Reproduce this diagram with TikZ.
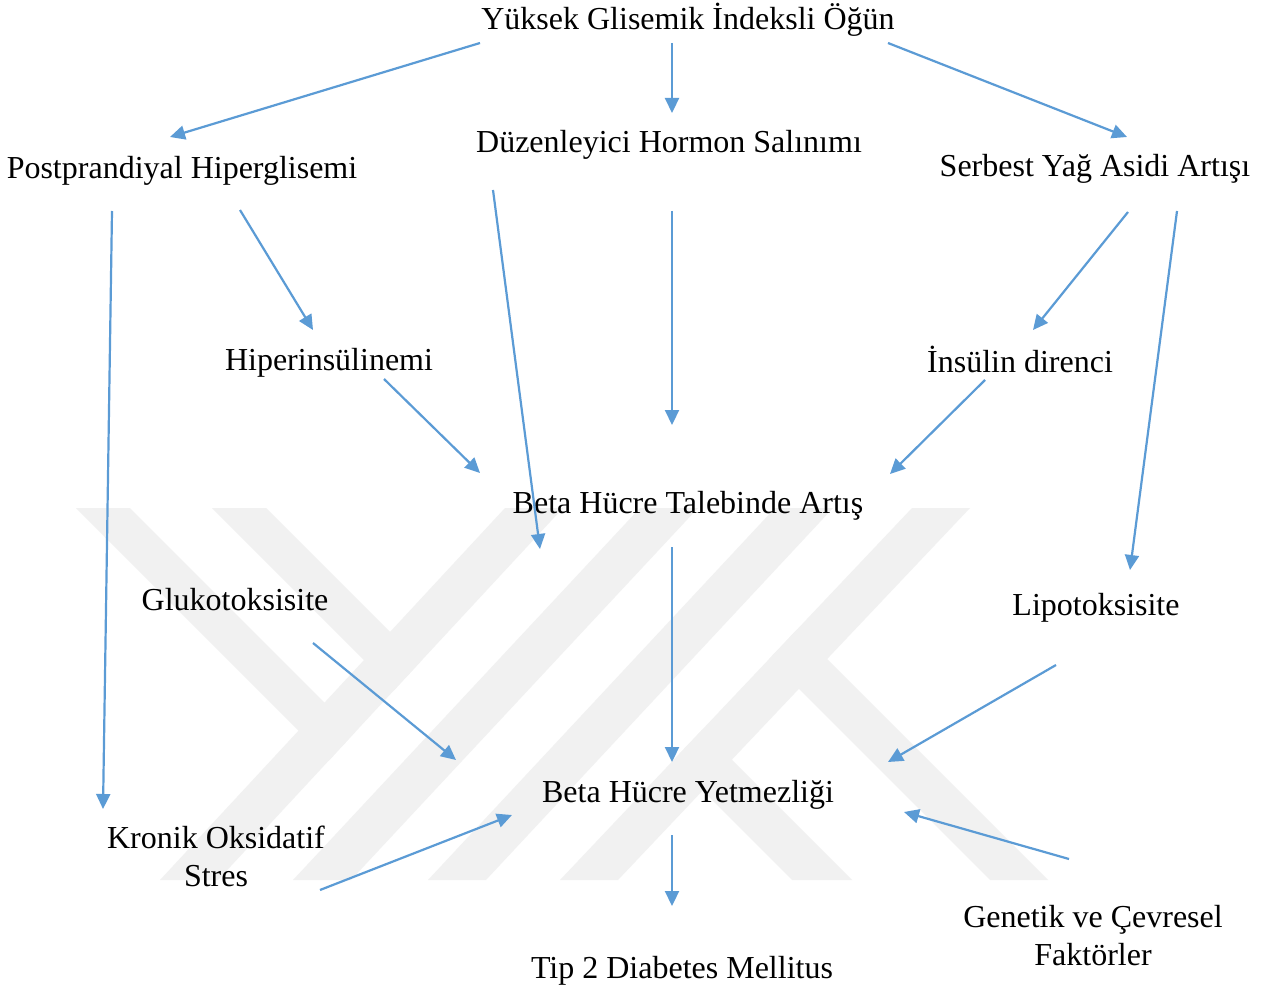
\documentclass[tikz,border=0pt]{standalone}
\usepackage{fontspec}
\setmainfont{Liberation Serif}
\usetikzlibrary{arrows.meta}
\definecolor{arrowblue}{RGB}{91,155,213}
\definecolor{wmgray}{RGB}{241,241,241}
\begin{document}
\begin{tikzpicture}[x=1pt,y=-1pt,
  lbl/.style={font=\fontsize{32}{38}\selectfont, inner sep=0pt, anchor=base, align=center},
  arr/.style={draw=arrowblue, line width=2.2pt, -{Triangle[length=15pt,width=14pt]}},
  wm/.style={fill=wmgray, draw=none}]
\useasboundingbox (0,0) rectangle (1276,992);
\fill[white] (0,0) rectangle (1276,992);
% watermark
\fill[wm] (76,508) -- (130,508) -- (354.6,732.6) -- (328.7,760.7) -- cycle;
\fill[wm] (212,508) -- (266,508) -- (420.1,662.1) -- (394.1,690.1) -- cycle;
\fill[wm] (505,508) -- (563,508) -- (218,880) -- (160,880) -- cycle;
\fill[wm] (640,508) -- (698,508) -- (351,880) -- (293,880) -- cycle;
\fill[wm] (775,508) -- (833,508) -- (486,880) -- (428,880) -- cycle;
\fill[wm] (912,508) -- (970,508) -- (618,880) -- (560,880) -- cycle;
\fill[wm] (769.1,659.1) -- (797.3,629.3) -- (1048,880) -- (990,880) -- cycle;
\fill[wm] (672.8,760.8) -- (702,730) -- (852,880) -- (792,880) -- cycle;
% nodes
\node[lbl] (yuk) at (688,30) {Yüksek Glisemik İndeksli Öğün};
\node[lbl] (post) at (182,179) {Postprandiyal Hiperglisemi};
\node[lbl] (duz) at (669,153) {Düzenleyici Hormon Salınımı};
\node[lbl] (serb) at (1095,177) {Serbest Yağ Asidi Artışı};
\node[lbl] (hiper) at (329,370) {Hiperinsülinemi};
\node[lbl] (insl) at (1020,372) {İnsülin direnci};
\node[lbl] (talep) at (688,513) {Beta Hücre Talebinde Artış};
\node[lbl] (gluk) at (235,610) {Glukotoksisite};
\node[lbl] (lipo) at (1096,615) {Lipotoksisite};
\node[lbl] (yetm) at (688,802) {Beta Hücre Yetmezliği};
\node[lbl] (kron) at (216,886) {Kronik Oksidatif\\Stres};
\node[lbl] (genet) at (1093,965) {Genetik ve Çevresel\\Faktörler};
\node[lbl] (tip) at (682,978) {Tip 2 Diabetes Mellitus};
% connectors
\draw[arr] ([shift={(-208,13)}]yuk.base) -- ([shift={(-12,-42)}]post.base);
\draw[arr] ([shift={(-16,13)}]yuk.base) -- ([shift={(3,-40)}]duz.base);
\draw[arr] ([shift={(200,13)}]yuk.base) -- ([shift={(32,-40)}]serb.base);
\draw[arr] ([shift={(-70,32)}]post.base) -- ([shift={(-113,-77)}]kron.base);
\draw[arr] ([shift={(58,31)}]post.base) -- ([shift={(-16,-40)}]hiper.base);
\draw[arr] ([shift={(-176,37)}]duz.base) -- ([shift={(-148,36)}]talep.base);
\draw[arr] ([shift={(3,58)}]duz.base) -- ([shift={(-16,-88)}]talep.base);
\draw[arr] ([shift={(33,35)}]serb.base) -- ([shift={(13,-42)}]insl.base);
\draw[arr] ([shift={(82,34)}]serb.base) -- ([shift={(34,-45)}]lipo.base);
\draw[arr] ([shift={(55,9)}]hiper.base) -- ([shift={(-208,-40)}]talep.base);
\draw[arr] ([shift={(-35,8)}]insl.base) -- ([shift={(202,-39)}]talep.base);
\draw[arr] ([shift={(-16,34)}]talep.base) -- ([shift={(-16,-40)}]yetm.base);
\draw[arr] ([shift={(78,33)}]gluk.base) -- ([shift={(-232,-42)}]yetm.base);
\draw[arr] ([shift={(-40,50)}]lipo.base) -- ([shift={(200,-40)}]yetm.base);
\draw[arr] ([shift={(104,4)}]kron.base) -- ([shift={(-176,13)}]yetm.base);
\draw[arr] ([shift={(-24,-106)}]genet.base) -- ([shift={(216,10)}]yetm.base);
\draw[arr] ([shift={(-16,33)}]yetm.base) -- ([shift={(-10,-72)}]tip.base);
\end{tikzpicture}
\end{document}
